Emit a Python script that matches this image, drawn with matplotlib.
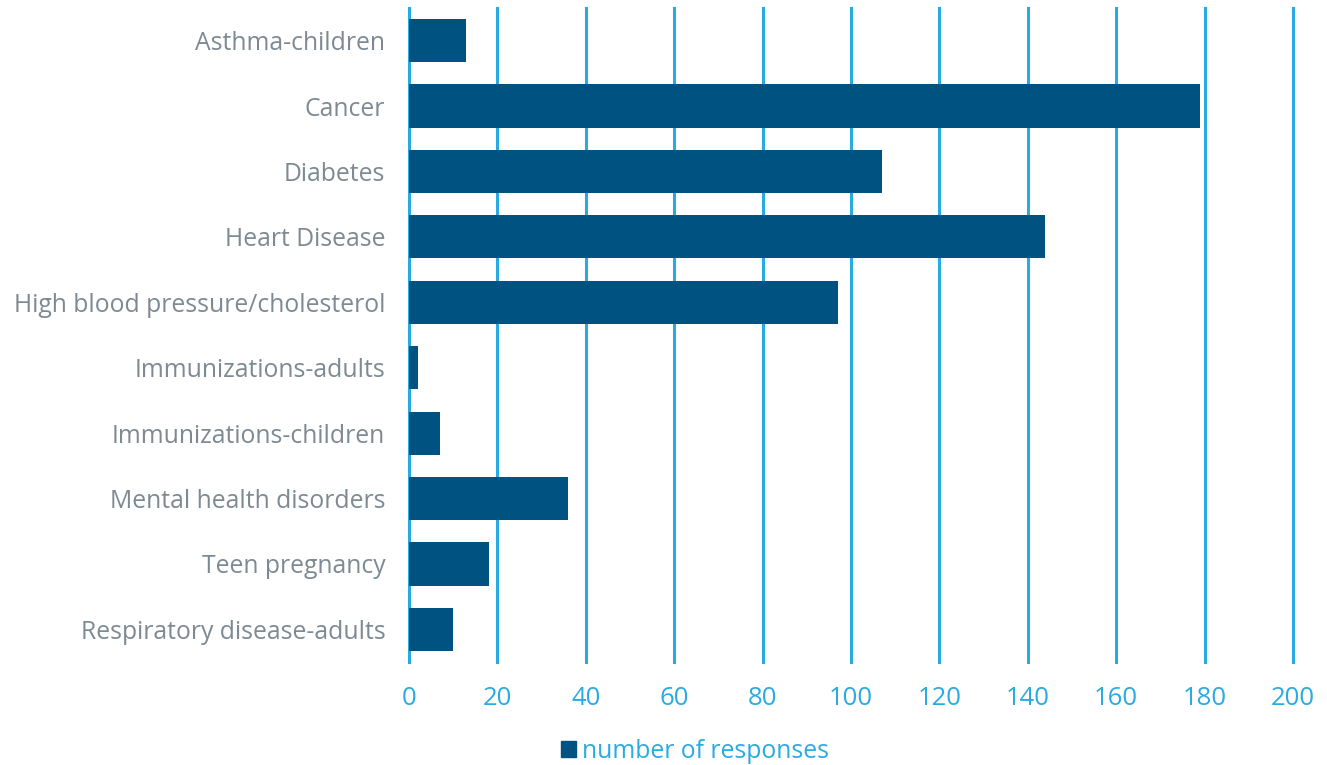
import matplotlib.pyplot as plt
from matplotlib.patches import Patch

categories = [
    "Asthma-children",
    "Cancer",
    "Diabetes",
    "Heart Disease",
    "High blood pressure/cholesterol",
    "Immunizations-adults",
    "Immunizations-children",
    "Mental health disorders",
    "Teen pregnancy",
    "Respiratory disease-adults",
]
responses = [13, 179, 107, 144, 97, 2, 7, 36, 18, 10]
x_ticks = [0, 20, 40, 60, 80, 100, 120, 140, 160, 180, 200]

bar_color = "#005280"
grid_color = "#29abe2"
label_color = "#7d8a93"

plt.rcParams["font.family"] = ["Open Sans", "DejaVu Sans"]

fig = plt.figure(figsize=(13.27, 7.65), dpi=100)
ax = fig.add_axes([0.3082, 0.1346, 0.6662, 0.855])

y = list(range(len(categories)))
ax.barh(y, responses, height=0.66, color=bar_color, zorder=3)
ax.set_ylim(len(categories) - 0.5, -0.5)
ax.set_xlim(0, 200)
ax.set_yticks(y)
ax.set_yticklabels(categories, fontsize=17.8, color=label_color)
ax.set_xticks(x_ticks)
ax.set_xticklabels([str(v) for v in x_ticks], fontsize=18.5, color=grid_color)
ax.tick_params(axis="y", length=0, pad=17)
ax.tick_params(axis="x", length=0, pad=17)
ax.grid(axis="x", color=grid_color, linewidth=2.2, zorder=1)
for gl in ax.get_xgridlines():
    gl.set_clip_on(False)
for s in ax.spines.values():
    s.set_visible(False)

handle = Patch(color=bar_color, label="number of responses")
leg = fig.legend(handles=[handle], loc="center", bbox_to_anchor=(0.524, 0.018),
                 frameon=False, fontsize=17.8, handlelength=0.6, handleheight=0.6,
                 handletextpad=0.25)
for t in leg.get_texts():
    t.set_color(grid_color)

fig.savefig("out.png", dpi=100)
